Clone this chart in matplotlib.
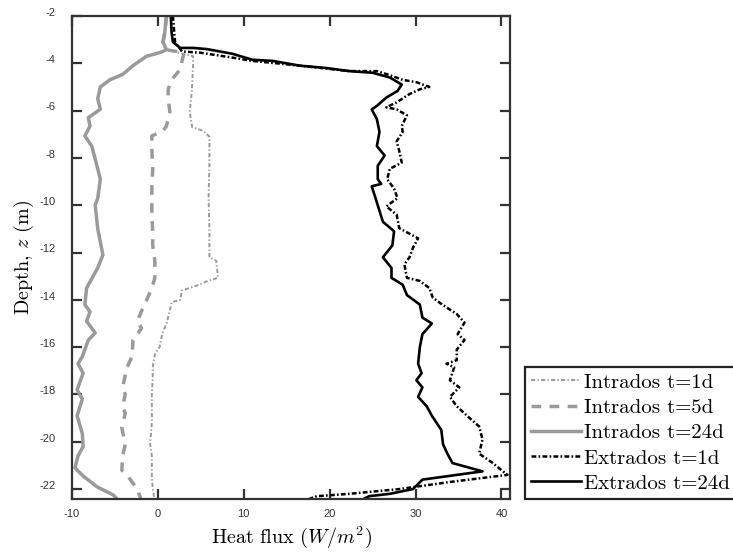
import matplotlib
matplotlib.use("Agg")
import matplotlib.pyplot as plt
from matplotlib.transforms import ScaledTranslation

plt.rcParams['mathtext.fontset'] = 'cm'
plt.rcParams['lines.scale_dashes'] = False
plt.rcParams['axes.unicode_minus'] = False

# Intrados t=1d
in1_q = [1.0, 0.8, 0.6, 1.0, 4.1, 4.1, 3.95, 3.7, 4.0, 5.3, 6.0, 6.0, 5.9, 6.0, 6.0, 6.8, 7.0,
         5.8, 4.5, 2.8, 2.6, 1.6, 1.4, 1.0, 0.5, 0.2, -0.35, -0.6, -0.6, -0.7, -0.7, -0.9, -0.7,
         -0.7, -0.6, -0.35]
in1_z = [-2.0, -2.7, -3.1, -3.43, -3.7, -4.1, -5.2, -6.07, -6.7, -6.86, -7.1, -8.3, -9.7, -11.0, -12.2, -12.35, -13.07,
         -13.2, -13.4, -13.6, -14.0, -14.1, -14.45, -15.0, -15.45, -16.0, -16.3, -16.85, -17.3, -18.0, -19.2, -20.1, -20.6,
         -21.45, -22.0, -22.5]

# Intrados t=5d
in5_q = [1.0, 0.8, 0.6, 1.0, 3.1, 2.9, 2.6, 1.6, 1.2, 1.2, 1.4, 1.0, 0.6, -0.7, -0.7, -0.6, -0.7,
         -0.7, -0.6, -0.6, -0.35, -0.35, -0.7, -1.3, -1.7, -2.4, -1.9, -2.9, -3.0, -3.6,
         -4.1, -3.8, -4.1, -3.8, -4.2, -3.8, -4.1, -4.2, -3.5, -2.4, -1.9]
in5_z = [-2.0, -2.7, -3.1, -3.43, -3.55, -3.76, -4.26, -4.7, -5.1, -5.5, -6.07, -6.65, -6.86, -7.07, -7.6, -8.46, -9.2,
         -10.4, -11.1, -11.7, -12.36, -13.07, -13.5, -14.0, -14.3, -14.9, -15.2, -15.7, -16.4, -16.85,
         -17.7, -18.0, -18.5, -18.8, -19.4, -20.1, -20.6, -21.2, -21.45, -22.0, -22.5]

# Intrados t=24d
in24_q = [1.0, 0.8, 0.6, 1.0, 0.2, -1.3, -2.9, -4.1, -5.6, -6.7, -7.0, -6.7, -8.1, -7.9, -8.5, -7.7,
          -7.3, -6.7, -7.0, -7.3, -7.0, -6.4, -7.0, -8.3, -8.5, -7.9, -8.3, -7.3, -8.1, -8.8, -9.3,
          -8.7, -9.4, -8.8, -9.4, -8.8, -8.7, -9.3, -9.65, -8.7, -7.1, -5.2, -4.5]
in24_z = [-2.0, -2.7, -3.1, -3.43, -3.55, -3.7, -4.1, -4.47, -4.7, -5.0, -5.5, -5.94, -6.3, -6.65, -7.07, -7.5,
          -8.04, -8.9, -9.7, -10.0, -11.0, -12.1, -12.65, -13.5, -14.2, -14.5, -14.9, -15.4, -15.7, -16.4, -16.7,
          -17.1, -17.8, -18.2, -18.9, -19.65, -20.2, -20.6, -21.1, -21.45, -21.9, -22.25, -22.5]

# Extrados t=1d
ex1_q = [1.75, 2.0, 2.8, 4.9, 8.7, 11.0, 13.8, 16.5, 22.3, 25.5, 27.0, 28.5, 30.1, 31.6, 30.5, 29.3,
         27.8, 26.6, 27.8, 29.0, 28.4, 28.5, 27.8, 28.1, 28.4, 27.0, 26.7, 27.5, 27.9, 26.6, 27.8,
         28.1, 30.3, 29.7, 29.3, 28.7, 29.0, 30.5, 31.6, 32.0, 33.1, 34.8, 35.7, 34.9, 35.7, 34.8,
         34.8, 33.6, 34.5, 34.0, 35.1, 34.0, 34.8, 36.3, 37.4, 37.8, 37.4, 39.0, 40.0, 40.7,
         34.0, 28.1, 22.3, 18.5, 17.0]
ex1_z = [-2.0, -3.1, -3.5, -3.55, -3.76, -3.9, -4.0, -4.1, -4.33, -4.33, -4.5, -4.7, -4.8, -5.0, -5.1, -5.3,
         -5.65, -5.86, -5.95, -6.2, -6.65, -6.9, -7.3, -7.7, -8.2, -8.46, -8.9, -9.3, -9.7, -10.05, -10.4,
         -10.97, -11.4, -11.8, -12.2, -12.5, -13.07, -13.2, -13.5, -13.9, -14.2, -14.6, -14.96, -15.45, -15.7, -16.1,
         -16.55, -16.7, -16.85, -17.4, -17.7, -18.1, -18.5, -19.0, -19.35, -19.9, -20.5, -20.9, -21.2, -21.4,
         -21.7, -22.0, -22.2, -22.3, -22.5]

# Extrados t=24d
ex24_q = [1.5, 1.6, 1.75, 2.6, 4.1, 5.7, 8.7, 11.0, 13.4, 16.5, 19.6, 22.3, 25.0, 27.0, 28.4, 27.9,
          26.6, 25.5, 24.9, 25.5, 25.8, 25.5, 26.4, 25.6, 25.6, 26.0, 24.9, 25.6, 26.2, 27.5,
          27.3, 26.2, 27.2, 27.2, 28.5, 29.0, 30.5, 30.8, 31.9, 30.8, 30.5, 30.3, 30.7, 30.1,
          30.8, 30.3, 31.3, 31.9, 33.0, 33.2, 33.7, 34.3, 37.8, 30.8, 29.7, 27.0, 24.6, 23.5]
ex24_z = [-2.0, -2.7, -3.1, -3.35, -3.35, -3.4, -3.6, -3.85, -3.9, -4.1, -4.2, -4.33, -4.4, -4.6, -4.9, -5.17,
          -5.45, -5.8, -5.95, -6.36, -6.9, -7.5, -7.9, -8.33, -8.9, -9.1, -9.2, -10.0, -10.7, -11.1,
          -11.7, -12.2, -12.65, -13.07, -13.36, -13.8, -14.2, -14.75, -15.0, -15.45, -16.0, -16.7, -17.1, -17.4,
          -17.7, -18.1, -18.5, -18.9, -19.5, -20.1, -20.5, -20.9, -21.25, -21.6, -22.0, -22.2, -22.3, -22.5]

grey = '#9a9a9a'

fig = plt.figure(figsize=(7.33, 5.53), dpi=100)
ax = fig.add_axes([0.0982, 0.0976, 0.5976, 0.8735])

ax.plot(in1_q, in1_z, color=grey, lw=1.4, dashes=(3, 1.6, 1, 1.6), label='Intrados t=1d')
ax.plot(in5_q, in5_z, color=grey, lw=2.5, dashes=(7, 6), label='Intrados t=5d')
ax.plot(in24_q, in24_z, color=grey, lw=2.5, label='Intrados t=24d')
ax.plot(ex1_q, ex1_z, color='black', lw=1.8, dashes=(3.5, 1.6, 1.2, 1.6), label='Extrados t=1d')
ax.plot(ex24_q, ex24_z, color='black', lw=1.9, label='Extrados t=24d')

ax.set_xlim(-10, 41)
ax.set_ylim(-22.42, -2)
ax.set_xticks([-10, 0, 10, 20, 30, 40])
ax.set_yticks(range(-22, -1, 2))
ax.tick_params(direction='in', length=7.5, width=1.6, top=True, right=True,
               labelsize=8, labelcolor='#333333', color='#333333')
ax.tick_params(axis='x', pad=7)
ax.tick_params(axis='y', pad=12)
shift = ScaledTranslation(0, 3 / 72, fig.dpi_scale_trans)
for lab in ax.get_xticklabels() + ax.get_yticklabels():
    lab.set_family('Liberation Sans')
for lab in ax.get_yticklabels():
    lab.set_transform(lab.get_transform() + shift)
for s in ax.spines.values():
    s.set_linewidth(1.6)
    s.set_color('#333333')

ax.set_xlabel(r'Heat flux ($W/m^2$)', fontsize=14.5, family='cmr10', labelpad=4)
ax.set_ylabel(r'Depth, $z$ (m)', fontsize=14.5, family='cmr10', labelpad=2)

leg = ax.legend(loc='lower left', bbox_to_anchor=(525 / 733, 1 - 499 / 553),
                bbox_transform=fig.transFigure, prop={'family': 'cmr10', 'size': 15},
                fancybox=False, framealpha=1, edgecolor='#222222', borderaxespad=0,
                handlelength=2.4, handletextpad=0.15, labelspacing=0.32, borderpad=0.3)
leg.get_frame().set_linewidth(1.6)

fig.savefig('out.png', dpi=100)
